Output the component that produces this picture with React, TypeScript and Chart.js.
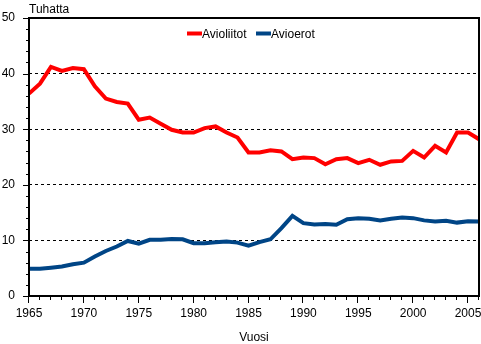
import React, { useEffect, useRef } from "react";
import { Chart, registerables } from "chart.js";

Chart.register(...registerables);

const years = [
  1965, 1966, 1967, 1968, 1969, 1970, 1971, 1972, 1973, 1974, 1975, 1976, 1977, 1978,
  1979, 1980, 1981, 1982, 1983, 1984, 1985, 1986, 1987, 1988, 1989, 1990, 1991, 1992,
  1993, 1994, 1995, 1996, 1997, 1998, 1999, 2000, 2001, 2002, 2003, 2004, 2005, 2006,
];
const avioliitot = [
  36.4, 38.2, 41.2, 40.5, 41.0, 40.8, 37.7, 35.5, 34.9, 34.6, 31.7, 32.1, 31.0, 29.9,
  29.4, 29.4, 30.2, 30.5, 29.4, 28.5, 25.8, 25.8, 26.2, 26.0, 24.6, 24.9, 24.8, 23.7,
  24.6, 24.8, 23.9, 24.5, 23.6, 24.2, 24.3, 26.1, 24.9, 27.0, 25.8, 29.4, 29.4, 28.2,
];
const avioerot = [
  4.9, 4.9, 5.1, 5.3, 5.7, 6.0, 7.1, 8.1, 8.9, 9.9, 9.4, 10.1, 10.1, 10.25,
  10.2, 9.5, 9.5, 9.65, 9.8, 9.6, 9.05, 9.7, 10.2, 12.2, 14.4, 13.1, 12.85, 12.95,
  12.8, 13.8, 14.0, 13.9, 13.6, 13.9, 14.1, 14.0, 13.6, 13.4, 13.55, 13.2, 13.45, 13.4,
];
const seriesNames = ["Avioliitot", "Avioerot"];
const yTitle = "Tuhatta";
const xTitle = "Vuosi";

const RED = "#ff0000";
const BLUE = "#004586";
const FONT = 'Arial, "Liberation Sans", sans-serif';

const decorPlugin = {
  id: "decor",
  afterDraw(chart: any) {
    const ctx = chart.ctx;
    const { left, right, top, bottom } = chart.chartArea;
    const xs = chart.scales.x;
    const ys = chart.scales.y;
    ctx.save();
    // frame
    ctx.strokeStyle = "#000";
    ctx.lineWidth = 2;
    ctx.beginPath();
    ctx.rect(left, top, right - left, bottom - top);
    ctx.stroke();
    // ticks
    ctx.lineWidth = 1;
    ctx.beginPath();
    for (let v = 0; v <= 50; v += 2) {
      const py = Math.round(ys.getPixelForValue(v)) + 0.5;
      const len = v % 10 === 0 ? 6 : 3;
      ctx.moveTo(left - len, py);
      ctx.lineTo(left, py);
    }
    for (const yr of years) {
      const px = Math.round(xs.getPixelForValue(yr)) - 0.5;
      const len = yr % 5 === 0 ? 7 : 4;
      ctx.moveTo(px, bottom);
      ctx.lineTo(px, bottom + len);
    }
    ctx.stroke();
    // texts
    ctx.fillStyle = "#000";
    ctx.font = "12px " + FONT;
    ctx.textBaseline = "alphabetic";
    ctx.textAlign = "left";
    ctx.fillText(yTitle, left, 13);
    ctx.textAlign = "center";
    ctx.fillText(xTitle, (left + right) / 2, 341);
    // legend
    const colors = [RED, BLUE];
    const starts = [187, 256];
    ctx.textAlign = "left";
    seriesNames.forEach((n, i) => {
      ctx.strokeStyle = colors[i];
      ctx.lineWidth = 4;
      ctx.beginPath();
      ctx.moveTo(starts[i], 33.5);
      ctx.lineTo(starts[i] + 15, 33.5);
      ctx.stroke();
      ctx.fillStyle = "#000";
      ctx.fillText(n, starts[i] + 15, 38);
    });
    ctx.restore();
  },
};

export default function App() {
  const ref = useRef<HTMLCanvasElement>(null);
  useEffect(() => {
    document.body.style.margin = "0";
    const canvas = ref.current!;
    const chart = new Chart(canvas, {
      type: "line",
      data: {
        datasets: [
          {
            label: seriesNames[0],
            data: years.map((x, i) => ({ x, y: avioliitot[i] })),
            borderColor: RED,
            backgroundColor: RED,
            borderWidth: 4,
            pointRadius: 0,
            tension: 0,
          },
          {
            label: seriesNames[1],
            data: years.map((x, i) => ({ x, y: avioerot[i] })),
            borderColor: BLUE,
            backgroundColor: BLUE,
            borderWidth: 4,
            pointRadius: 0,
            tension: 0,
          },
        ],
      },
      options: {
        animation: false,
        responsive: false,
        devicePixelRatio: 1,
        layout: { padding: { top: 18, right: 2, left: 0, bottom: 0 } },
        plugins: {
          legend: { display: false },
          tooltip: { enabled: false },
          title: { display: false },
        },
        scales: {
          x: {
            type: "linear",
            min: 1965,
            max: 2006,
            afterFit: (s: any) => {
              s.height = 48;
              s.paddingLeft = 0;
              s.paddingRight = 0;
            },
            ticks: {
              stepSize: 1,
              autoSkip: false,
              maxRotation: 0,
              padding: 10,
              color: "#000",
              font: { family: FONT, size: 12 },
              callback: (v: any) => (Number(v) % 5 === 0 ? String(v) : ""),
            },
            grid: { display: false, drawTicks: false },
            border: { display: false },
          },
          y: {
            min: 0,
            max: 50,
            afterFit: (s: any) => {
              s.width = 29;
              s.paddingTop = 0;
              s.paddingBottom = 0;
            },
            ticks: {
              stepSize: 2,
              autoSkip: false,
              padding: 14,
              color: "#000",
              font: { family: FONT, size: 12 },
              callback: (v: any) => (Number(v) % 10 === 0 ? String(v) : ""),
            },
            grid: {
              drawTicks: false,
              lineWidth: 1,
              color: (c: any) => {
                const v = c.tick ? c.tick.value : -1;
                return v % 10 === 0 && v > 0 && v < 50 ? "#000" : "rgba(0,0,0,0)";
              },
            },
            border: { display: false, dash: [3, 3] },
          },
        },
      },
      plugins: [decorPlugin],
    } as any);
    return () => chart.destroy();
  }, []);
  return (
    <div style={{ width: 481, height: 344 }}>
      <canvas ref={ref} width={481} height={344} style={{ display: "block" }} />
    </div>
  );
}
